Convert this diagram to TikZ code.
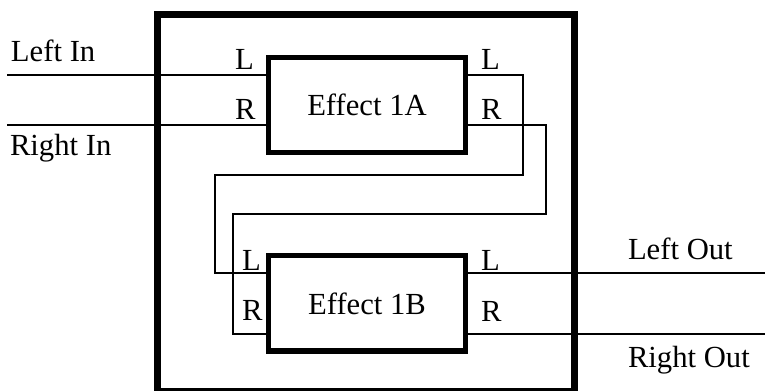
\documentclass[tikz,border=0pt]{standalone}
\usepackage{fontspec}
\setmainfont{Liberation Serif}
\begin{document}
\begin{tikzpicture}[x=0.75pt,y=-0.75pt,
  every node/.style={font=\fontsize{23}{27}\selectfont, inner sep=0pt, outer sep=0pt},
  wire/.style={line width=1.6pt, line join=miter},
  fxbox/.style={draw, line width=3.8pt, minimum width=148pt, minimum height=71.3pt},
  outerbox/.style={draw, line width=5.3pt, minimum width=312.75pt, minimum height=282.4pt},
  lbl/.style={anchor=base west}]
\useasboundingbox (0,0) rectangle (767,391);
% outer frame
\node[outerbox] (frame) at (366,203) {};
% effect boxes
\node[fxbox] (A) at (367,105) {Effect 1A};
\node[fxbox] (B) at (367,303.5) {Effect 1B};
% texts
\node[lbl] (tLin) at (11,62) {Left In};
\node[lbl] (tRin) at (10,156) {Right In};
\node[lbl] (tLout) at (628,260) {Left Out};
\node[lbl] (tRout) at (628,368) {Right Out};
\node[lbl] (aLi) at (235,70) {L};
\node[lbl] (aRi) at (235,120) {R};
\node[lbl] (aLo) at (481,70) {L};
\node[lbl] (aRo) at (481,120) {R};
\node[lbl] (bLi) at (242,271) {L};
\node[lbl] (bRi) at (242,321) {R};
\node[lbl] (bLo) at (481,271) {L};
\node[lbl] (bRo) at (481,322) {R};
% free ends
\coordinate (inL) at (7,75);
\coordinate (inR) at (7,125);
\coordinate (outL) at (765,273);
\coordinate (outR) at (765,334);
% wires
\draw[wire] (inL) -- (A.west |- inL);
\draw[wire] (inR) -- (A.west |- inR);
\draw[wire] (A.east |- inL) -- (523,75) -- (523,175) -- (215,175) -- (215,273) -- (B.west |- outL);
\draw[wire] (A.east |- inR) -- (546,125) -- (546,214) -- (233,214) -- (233,334) -- (B.west |- outR);
\draw[wire] (B.east |- outL) -- (outL);
\draw[wire] (B.east |- outR) -- (outR);
\end{tikzpicture}
\end{document}
